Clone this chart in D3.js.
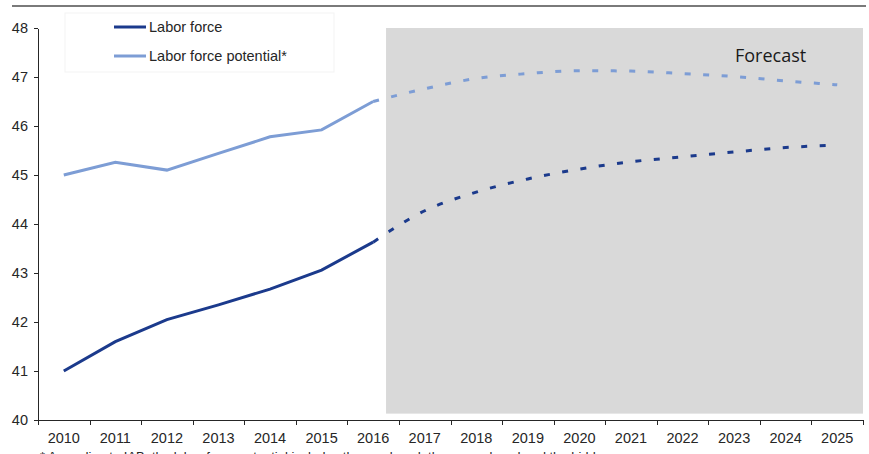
<!DOCTYPE html>
<html>
<head>
<meta charset="utf-8">
<title>Labor force and labor force potential</title>
<script src="https://d3js.org/d3.v7.min.js"></script>
<style>
  html, body { margin: 0; padding: 0; background: #fff; }
  text { font-family: "Liberation Sans", Arial, sans-serif; fill: #262626; }
  .axis path, .axis line { stroke: #262626; shape-rendering: crispEdges; }
  .axis text { font-size: 14.5px; }
  path.line { fill: none; stroke-width: 3px; }
</style>
</head>
<body>
<script>
// years on the x axis
var years = ["2010","2011","2012","2013","2014","2015","2016","2017","2018","2019","2020","2021","2022","2023","2024","2025"];
var yTicks = [40, 41, 42, 43, 44, 45, 46, 47, 48];

// observed values (millions)
var histYears = ["2010","2011","2012","2013","2014","2015","2016"];
var laborForce = [41.0, 41.6, 42.05, 42.35, 42.67, 43.06, 43.63];
var laborPotential = [45.0, 45.26, 45.1, 45.44, 45.78, 45.92, 46.5];

// forecast values
var fcYears = ["2016","2017","2018","2019","2020","2021","2022","2023","2024","2025"];
var laborForceFc = [43.63, 44.27, 44.65, 44.92, 45.12, 45.27, 45.37, 45.47, 45.56, 45.61];
var laborPotentialFc = [46.5, 46.76, 46.97, 47.07, 47.13, 47.12, 47.07, 47.01, 46.92, 46.84];

var seriesNames = ["Labor force", "Labor force potential*"];
var colors = ["#1b3a8c", "#7d9dd5"];

var W = 869, H = 454;
var svg = d3.select("body").append("svg").attr("width", W).attr("height", H);

var x = d3.scaleBand().domain(years).range([38, 863]);
var bw = x.bandwidth();
var cx = function(yr) { return x(yr) + bw / 2; };
var y = d3.scaleLinear().domain([40, 48]).range([420, 28]);

// top rule
svg.append("line")
    .attr("x1", 12).attr("x2", 866).attr("y1", 6).attr("y2", 6)
    .style("stroke", "#7a7a7a").style("stroke-width", 2);

// forecast area
svg.append("rect")
    .attr("x", x("2016") + bw * 0.75)
    .attr("y", y(48))
    .attr("width", 863 - (x("2016") + bw * 0.75))
    .attr("height", y(40.13) - y(48))
    .style("fill", "#d9d9d9");

svg.append("text")
    .attr("x", 735).attr("y", 62)
    .style("font-family", "'Open Sans', sans-serif")
    .style("font-size", "18px")
    .style("fill", "#1a1a1a")
    .text("Forecast");

// axes
svg.append("g")
    .attr("class", "axis y")
    .attr("transform", "translate(38,0)")
    .call(d3.axisLeft(y).tickValues(yTicks).tickSize(4).tickSizeOuter(0).tickPadding(6));

var xAxisG = svg.append("g")
    .attr("class", "axis x")
    .attr("transform", "translate(0,420)")
    .call(d3.axisBottom(x).tickSize(0).tickPadding(12.5));
xAxisG.select(".domain").remove();

var xb = d3.scaleLinear().domain([0, years.length]).range(x.range());
svg.append("g")
    .attr("class", "axis xb")
    .attr("transform", "translate(0,420)")
    .call(d3.axisBottom(xb).ticks(years.length).tickFormat("").tickSize(5).tickSizeOuter(5));

// lines
var line = d3.line()
    .x(function(d) { return cx(d.yr); })
    .y(function(d) { return y(d.v); });
var smooth = d3.line()
    .x(function(d) { return cx(d.yr); })
    .y(function(d) { return y(d.v); })
    .curve(d3.curveMonotoneX);

function pairs(ys, vs) { return ys.map(function(yr, i) { return {yr: yr, v: vs[i]}; }); }

svg.append("path").attr("class", "line")
    .attr("d", line(pairs(histYears, laborPotential)))
    .style("stroke", colors[1]);
svg.append("path").attr("class", "line")
    .attr("d", smooth(pairs(fcYears, laborPotentialFc)))
    .style("stroke", colors[1]).style("stroke-dasharray", "6,12.5");

svg.append("path").attr("class", "line")
    .attr("d", line(pairs(histYears, laborForce)))
    .style("stroke", colors[0]);
svg.append("path").attr("class", "line")
    .attr("d", smooth(pairs(fcYears, laborForceFc)))
    .style("stroke", colors[0]).style("stroke-dasharray", "6,12.5");

// legend
var legend = svg.append("g").attr("class", "legendWrap");
legend.append("rect")
    .attr("x", 65).attr("y", 13).attr("width", 269).attr("height", 59)
    .style("fill", "none").style("stroke", "#f3f3f3");
var item = legend.selectAll(".legend").data(seriesNames).enter()
    .append("g").attr("class", "legend")
    .attr("transform", function(d, i) { return "translate(0," + (27 + i * 29) + ")"; });
item.append("line")
    .attr("x1", 114).attr("x2", 146)
    .style("stroke", function(d, i) { return colors[i]; })
    .style("stroke-width", 3);
item.append("text")
    .attr("x", 149).attr("dy", "0.36em")
    .style("font-size", "14.5px")
    .text(function(d) { return d; });

// footnote (cut off at the bottom edge, as in the source)
svg.append("text")
    .attr("x", 40).attr("y", 461)
    .style("font-size", "13px")
    .text("* According to IAB, the labor force potential includes the employed, the unemployed and the hidden reserve");
</script>
</body>
</html>
